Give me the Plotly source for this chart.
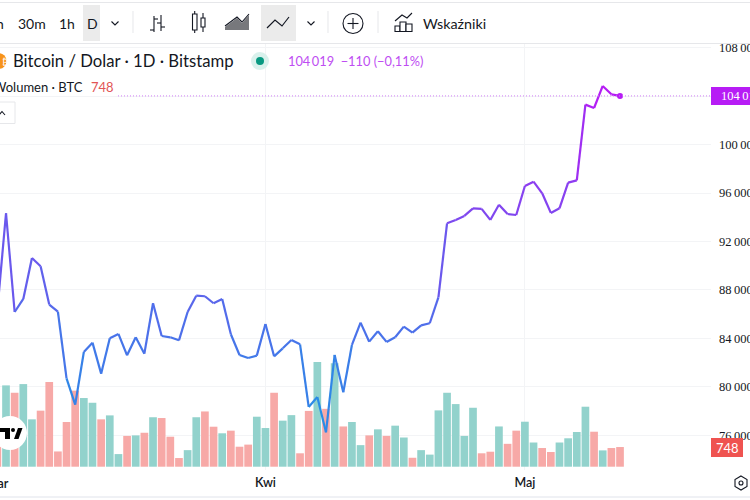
import plotly.graph_objects as go
import pandas as pd

W = 750
H = 500
FONT = "Lato"
SCALE_FONT = "Liberation Sans Narrow"
DARK = "#131722"
PURPLE = "#B71CF5"
RED = "#EF5350"

## values ##
close = [86350, 94330, 86180, 87260, 90640, 89950, 86790, 86210, 80700, 78530,
         82880, 83650, 81090, 84010, 84370, 82600, 84090, 82740, 86900, 84200,
         84090, 83840, 86180, 87530, 87480, 86900, 87260, 84340, 82630, 82380,
         82580, 85190, 82520, 83180, 83870, 83510, 78340, 79160, 76250, 82630,
         79550, 83460, 85300, 83730, 84590, 83710, 84090, 84970, 84480, 85080,
         85250, 87390, 93500, 93780, 94110, 94740, 94690, 93780, 95040, 94270,
         94190, 96580, 96940, 95980, 94360, 94740, 96860, 97050, 103300, 103020,
         104840, 104150, 104019]
volume = [900, 3090, 2810, 3140, 1800, 2130, 3220, 580, 1700, 2890,
          2610, 2430, 1800, 1950, 480, 1170, 1190, 1290, 1880, 1850,
          1140, 330, 630, 1880, 2100, 1520, 1270, 1370, 760, 840,
          1900, 1470, 2810, 1750, 1960, 510, 2120, 3980, 2200, 3930,
          1530, 1700, 820, 1190, 1420, 1170, 1560, 1110, 340, 630,
          460, 2140, 2810, 2380, 1170, 2240, 510, 570, 1530, 870,
          1370, 1710, 920, 710, 560, 920, 1080, 1320, 2280, 1330,
          620, 710, 748]
# 1 = green volume bar, 0 = red volume bar
vol_up = [0, 1, 0, 1, 1, 0, 0, 0, 0, 0,
          1, 1, 0, 1, 1, 0, 1, 0, 1, 0,
          0, 0, 1, 1, 0, 0, 1, 0, 0, 0,
          1, 1, 0, 1, 1, 0, 0, 1, 0, 1,
          0, 1, 1, 0, 1, 0, 1, 1, 0, 1,
          1, 1, 1, 1, 1, 1, 0, 0, 1, 0,
          0, 1, 1, 0, 0, 1, 1, 1, 1, 0,
          1, 0, 0]
dates = pd.date_range("2025-03-01", periods=len(close)).strftime("%Y-%m-%d").tolist()

price_ticks = [76000, 80000, 84000, 88000, 92000, 96000, 100000, 104000, 108000]
price_labels = ["76\u2009000", "80\u2009000", "84\u2009000", "88\u2009000", "92\u2009000",
                "96\u2009000", "100\u2009000", "", "108\u2009000"]
month_ticks = ["2025-04-01", "2025-05-01"]
month_labels = ["Kwi", "Maj"]


def fx(x):
    return x / W


def fy(y):
    return 1 - y / H


def path(points, close_it=False):
    s = "M " + " L ".join(f"{fx(x):.5f} {fy(y):.5f}" for x, y in points)
    return s + (" Z" if close_it else "")


# line colour follows the price, blue at the bottom and purple at the top
def price_color(p):
    t = min(max((p - 76000) / 28500, 0), 1)
    a = (30, 150, 230)
    b = (183, 28, 245)
    return "rgb(%d,%d,%d)" % tuple(a[i] + (b[i] - a[i]) * t for i in range(3))


fig = go.Figure()

fig.add_trace(go.Bar(x=dates, y=volume, yaxis="y",
                     marker=dict(color=["#92D2CC" if u else "#F7A9A7" for u in vol_up], line_width=0),
                     showlegend=False))

for i in range(len(close) - 1):
    fig.add_trace(go.Scatter(x=dates[i:i + 2], y=close[i:i + 2], yaxis="y2", mode="lines",
                             line=dict(color=price_color((close[i] + close[i + 1]) / 2), width=2.2),
                             showlegend=False))
fig.add_trace(go.Scatter(x=dates[-1:], y=close[-1:], yaxis="y2", mode="markers",
                         marker=dict(color=PURPLE, size=6), showlegend=False))

shapes = []


def line(points, color=DARK, width=1.1):
    shapes.append(dict(type="path", xref="paper", yref="paper", path=path(points),
                       line=dict(color=color, width=width)))


def box(x0, y0, x1, y1, fill, border=None, width=1):
    shapes.append(dict(type="rect", xref="paper", yref="paper", x0=fx(x0), x1=fx(x1), y0=fy(y0), y1=fy(y1),
                       fillcolor=fill, line=dict(color=border or fill, width=width if border else 0)))


def circle(cx, cy, r, fill="rgba(0,0,0,0)", border=None, width=1.1):
    shapes.append(dict(type="circle", xref="paper", yref="paper",
                       x0=fx(cx - r), x1=fx(cx + r), y0=fy(cy + r), y1=fy(cy - r),
                       fillcolor=fill, line=dict(color=border or fill, width=width if border else 0)))


def label(x, y, text, size=13, color=DARK, anchor="left", weight=None, family=FONT):
    fig.add_annotation(xref="paper", yref="paper", x=fx(x), y=fy(y), text=text, showarrow=False,
                       xanchor=anchor, yanchor="middle", borderpad=0,
                       font=dict(family=family, size=size, color=color, weight=weight))


# frame lines
line([(0, 2.5), (W, 2.5)], "#E6E7EA", 1)
line([(0, 43.5), (W, 43.5)], "#E6E7EA", 1)
line([(0, 497), (W, 497)], "#E0E3EB", 1)

# price line level
shapes.append(dict(type="line", xref="paper", yref="y2", x0=fx(118), x1=fx(711), y0=close[-1], y1=close[-1],
                   line=dict(color="#D07FF6", width=1, dash="1px,2px")))

# toolbar
box(83, 5, 100, 41, "#EBEBEB")
box(261, 5, 296, 41, "#EBEBEB")
label(-5, 23, "n", 14)
label(31.5, 23, "30m", 14, anchor="center")
label(66.5, 23, "1h", 14, anchor="center")
label(92, 23, "D", 14, anchor="center")
line([(111.5, 21.5), (115, 25), (118.5, 21.5)])
line([(307.5, 21.5), (311, 25), (314.5, 21.5)])
for x in (133, 328, 378):
    line([(x, 11), (x, 33)], "#E6E7EA", 1)
# bars icon
line([(154, 16), (154, 32)])
line([(150, 30), (154, 30)])
line([(154, 19), (158, 19)])
line([(161, 15), (161, 31)])
line([(157, 23), (161, 23)])
line([(161, 27), (165, 27)])
# candles icon
box(192.5, 14, 197, 30, "#FFFFFF", DARK, 1.1)
line([(194.7, 11), (194.7, 14)])
line([(194.7, 30), (194.7, 33)])
box(201, 18, 205, 27, "#FFFFFF", DARK, 1.1)
line([(203, 13), (203, 18)])
line([(203, 27), (203, 32)])
# area icon
shapes.append(dict(type="path", xref="paper", yref="paper",
                   path=path([(225, 30), (225, 27), (237, 18), (242, 23), (249, 15), (249, 30)], True),
                   fillcolor="#77787C", line_width=0))
line([(225, 26), (237, 17), (242, 22), (249, 14)])
# line icon
line([(267, 28), (275, 20), (282, 26), (289, 17)], width=1.2)
# plus icon
circle(353, 23.5, 10, border=DARK)
line([(353, 18), (353, 29)])
line([(347.5, 23.5), (358.5, 23.5)])
# indicators icon
line([(395, 21), (402, 15), (407, 18), (412, 13)])
box(395, 26, 400, 31.5, "#FFFFFF", DARK, 1.1)
box(400, 22, 406, 31.5, "#FFFFFF", DARK, 1.1)
box(406, 24, 412, 31.5, "#FFFFFF", DARK, 1.1)
label(422, 23, "Wskaźniki", 14.3)

# legend rows
circle(-1.5, 61, 8, "#F7931A")
label(1, 61, "₿", 9, "#FFFFFF")
label(12, 61, "Bitcoin / Dolar · 1D · Bitstamp", 16.7)
circle(260, 61, 9, "#D9F1EC")
circle(260, 61, 4, "#089981")
label(287, 61, "104\u2009019  −110 (−0,11%)", 12.8, "#BE4DF2")
label(-8, 87, "Wolumen · BTC", 13)
label(90, 87, "748", 13, "#E25555")
shapes.append(dict(type="rect", xref="paper", yref="paper", x0=fx(-8), x1=fx(15), y0=fy(123.5), y1=fy(102),
                   fillcolor="#FFFFFF", line=dict(color="#E6E7EA", width=1)))
line([(-1, 115), (2, 111.5), (5, 115)])

# right scale tags and icon
box(711, 87, W, 105, PURPLE)
label(719.5, 96, "104\u2009019", 12.5, "#FFFFFF", family=SCALE_FONT)
box(711, 438, 743, 457, RED)
label(727, 447.5, "748", 13, "#FFFFFF", anchor="center")
hexagon = [(741, 476), (747, 479.5), (747, 486.5), (741, 490), (735, 486.5), (735, 479.5)]
shapes.append(dict(type="path", xref="paper", yref="paper", path=path(hexagon, True),
                   line=dict(color=DARK, width=1.1)))
circle(741, 483, 2, border=DARK)

# logo badge
circle(10, 433, 17, "#FFFFFF")
shapes.append(dict(type="path", xref="paper", yref="paper",
                   path=path([(-2, 428), (10, 428), (10, 439), (5, 439), (5, 432), (-2, 432)], True),
                   fillcolor="#000000", line_width=0))
circle(13, 430, 2, "#000000")
shapes.append(dict(type="path", xref="paper", yref="paper",
                   path=path([(18, 428), (22.5, 428), (18.5, 439), (14, 439)], True),
                   fillcolor="#000000", line_width=0))

# first month label falls just outside the axis range
label(-2.6, 483, "Mar", 12.5, anchor="center", weight=600)

fig.update_layout(
    width=W, height=H, margin=dict(l=0, r=0, t=0, b=0),
    paper_bgcolor="#FFFFFF", plot_bgcolor="#FFFFFF",
    bargap=0.11, shapes=shapes, showlegend=False,
    font=dict(family=FONT, size=13, color=DARK),
    xaxis=dict(domain=[0, fx(711)], type="date", range=["2025-03-01 07:20", "2025-05-22 12:30"],
               tickvals=month_ticks, ticktext=month_labels, ticks="", showline=False,
               showgrid=True, gridcolor="#F3F4F6", zeroline=False, automargin=False,
               tickfont=dict(family=FONT, size=12.5, weight=600), ticklabelstandoff=3),
    yaxis=dict(domain=[fy(470), fy(44)], range=[-125, 16063], visible=False, automargin=False),
    yaxis2=dict(domain=[fy(470), fy(44)], overlaying="y", side="right", anchor="x",
                range=[73135, 108305], tickvals=price_ticks, ticktext=price_labels,
                ticks="", showline=False, showgrid=True, gridcolor="#F3F4F6", zeroline=False,
                automargin=False, tickfont=dict(family=SCALE_FONT, size=12.5), ticklabelstandoff=7),
)

# the page's default body margin would push the chart off its position
fig.write_html("out.html", config=dict(displayModeBar=False),
               post_script="document.body.style.margin='0';")
